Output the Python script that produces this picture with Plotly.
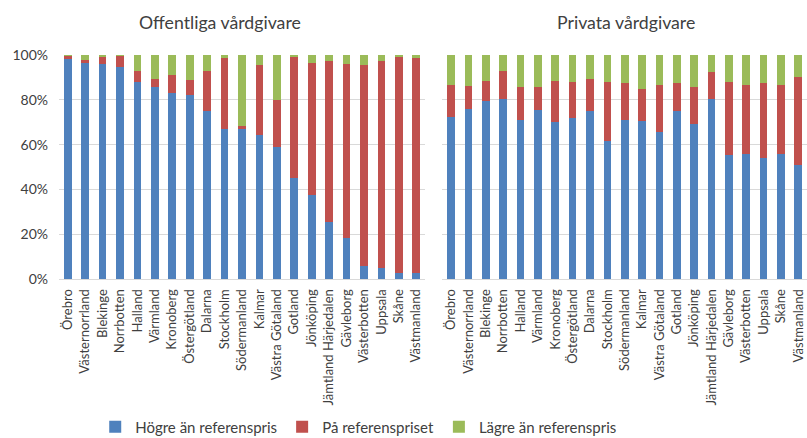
import plotly.graph_objects as go

# Regions (same order in both panels)
regioner_off = ["Örebro", "Västernorrland", "Blekinge", "Norrbotten", "Halland", "Värmland",
                "Kronoberg", "Östergötland", "Dalarna", "Stockholm", "Södermanland", "Kalmar",
                "Västra Götaland", "Gotland", "Jönköping", "Jämtland Härjedalen", "Gävleborg",
                "Västerbotten", "Uppsala", "Skåne", "Västmanland"]
regioner_priv = list(regioner_off)

# Offentliga vårdgivare, share in percent
hogre_off = [98.4, 96.4, 96.1, 94.8, 88.1, 85.7, 83.0, 82.0, 75.1, 67.1, 66.8, 64.1,
             58.9, 45.3, 37.4, 25.3, 18.5, 6.0, 5.1, 2.5, 2.5]
pa_off = [1.2, 1.5, 3.0, 4.8, 4.9, 3.4, 8.2, 6.8, 17.9, 31.6, 1.6, 31.3,
          20.8, 54.1, 59.0, 71.9, 77.6, 89.7, 92.1, 96.5, 96.2]
lagre_off = [0.4, 2.1, 0.9, 0.4, 7.0, 10.9, 8.8, 11.2, 7.0, 1.3, 31.6, 4.6,
             20.3, 0.6, 3.6, 2.8, 3.9, 4.3, 2.8, 1.0, 1.3]

# Privata vårdgivare, share in percent
hogre_priv = [72.4, 75.9, 79.4, 80.5, 71.1, 75.3, 70.3, 71.7, 75.1, 61.8, 71.1, 70.6,
              65.7, 74.8, 69.4, 80.2, 55.3, 56.0, 54.2, 55.7, 51.1]
pa_priv = [14.2, 10.2, 9.1, 12.2, 14.4, 10.2, 18.2, 16.4, 14.2, 26.0, 16.2, 14.3,
           20.7, 12.8, 16.4, 12.1, 32.8, 30.6, 33.1, 30.7, 39.2]
lagre_priv = [13.4, 13.9, 11.5, 7.3, 14.5, 14.5, 11.5, 11.9, 10.7, 12.2, 12.7, 15.1,
              13.6, 12.4, 14.2, 7.7, 11.9, 13.4, 12.7, 13.6, 9.7]

serier = ["Högre än referenspris", "På referenspriset", "Lägre än referenspris"]
farger = ["#4F81BD", "#C0504D", "#9BBB59"]
y_ticks = [0, 20, 40, 60, 80, 100]
y_ticktext = ["0%", "20%", "40%", "60%", "80%", "100%"]

FONT = "Lato"
TXT = "#404040"
GRID = "#D9D9D9"

fig = go.Figure()
for namn, farg, vals in zip(serier, farger, [hogre_off, pa_off, lagre_off]):
    fig.add_trace(go.Bar(x=regioner_off, y=vals, name=namn, marker_color=farg,
                         marker_line_width=0, xaxis="x", yaxis="y", legendgroup=namn))
for namn, farg, vals in zip(serier, farger, [hogre_priv, pa_priv, lagre_priv]):
    fig.add_trace(go.Bar(x=regioner_priv, y=vals, name=namn, marker_color=farg,
                         marker_line_width=0, xaxis="x2", yaxis="y2", legendgroup=namn,
                         showlegend=False))

xcommon = dict(type="category", tickangle=-90, showgrid=False, zeroline=False,
               showline=True, linecolor=GRID, linewidth=1, ticks="", automargin=False,
               ticklabelstandoff=4, range=[-0.5, 20.5],
               tickfont=dict(family=FONT, size=13, color=TXT))
ycommon = dict(range=[0, 100], tickvals=y_ticks, showgrid=True, gridcolor=GRID,
               gridwidth=1, zeroline=False, showline=False, ticks="", automargin=False)

fig.update_layout(
    width=807, height=438,
    margin=dict(l=59, r=0, t=55, b=159),
    barmode="stack", bargap=0.56,
    plot_bgcolor="white", paper_bgcolor="white",
    font=dict(family=FONT, color=TXT),
    xaxis=dict(domain=[0, 0.4893], **xcommon),
    xaxis2=dict(domain=[0.5127, 1.0], anchor="y2", **xcommon),
    yaxis=dict(ticktext=y_ticktext, ticklabelstandoff=10,
               tickfont=dict(family=FONT, size=14, color=TXT), **ycommon),
    yaxis2=dict(anchor="x2", showticklabels=False, **ycommon),
    legend=dict(orientation="h", x=0.118, xanchor="left", xref="container",
                y=0.025, yanchor="middle", yref="container",
                font=dict(family=FONT, size=15, color=TXT), itemwidth=30,
                traceorder="normal"),
    annotations=[
        dict(text="Offentliga vårdgivare", x=0.215, y=1.144, xref="paper", yref="paper",
             xanchor="center", yanchor="middle", showarrow=False,
             font=dict(family=FONT, size=17.7, color=TXT)),
        dict(text="Privata vårdgivare", x=0.758, y=1.144, xref="paper", yref="paper",
             xanchor="center", yanchor="middle", showarrow=False,
             font=dict(family=FONT, size=17.7, color=TXT)),
    ],
)

fig.write_html("out.html")
